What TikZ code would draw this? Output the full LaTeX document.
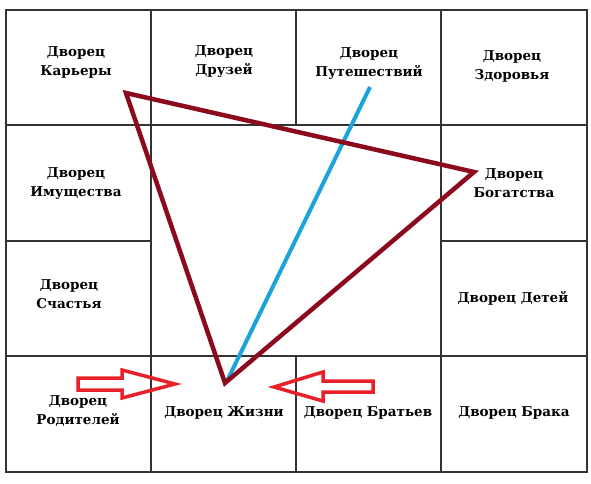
\documentclass[tikz,border=0pt]{standalone}
\usepackage{fontspec}
\setmainfont{DejaVu Serif}
\begin{document}
\begin{tikzpicture}[x=1pt,y=-1pt,
  grid/.style={draw=black!80,line width=1.4pt},
  lbl/.style={font=\bfseries\fontsize{13.5}{19}\selectfont,align=center,inner sep=0pt,text=black},
  tri/.style={draw={rgb,255:red,139;green,10;blue,30},line width=4.5pt,line join=miter},
  ray/.style={draw={rgb,255:red,28;green,163;blue,220},line width=4pt},
  redarrow/.style={draw={rgb,255:red,232;green,32;blue,42},line width=3.5pt,line join=miter}]
\useasboundingbox (0,0) rectangle (591,484);
\fill[white] (0,0) rectangle (591,484);
% grid
\draw[grid] (6,10) rectangle (587,472);
\draw[grid] (6,125) -- (587,125);
\draw[grid] (6,356) -- (587,356);
\draw[grid] (6,241) -- (151,241);
\draw[grid] (441,241) -- (587,241);
\draw[grid] (151,10) -- (151,472);
\draw[grid] (441,10) -- (441,472);
\draw[grid] (296,10) -- (296,125);
\draw[grid] (296,356) -- (296,472);
% labels
\node[lbl] (kar) at (76,62) {Дворец\\Карьеры};
\node[lbl] (dru) at (224,62) {Дворец\\Друзей};
\node[lbl] (put) at (369,64) {Дворец\\Путешествий};
\node[lbl] (zdo) at (512,66) {Дворец\\Здоровья};
\node[lbl] (imu) at (76,184) {Дворец\\Имущества};
\node[lbl] (bog) at (514,183) {Дворец\\Богатства};
\node[lbl] (sch) at (69,294) {Дворец\\Счастья};
\node[lbl] (det) at (513,298) {Дворец Детей};
\node[lbl] (rod) at (78,411) {Дворец\\Родителей};
\node[lbl] (zhi) at (224,413) {Дворец Жизни};
\node[lbl] (bra) at (368,413) {Дворец Братьев};
\node[lbl] (brk) at (514,413) {Дворец Брака};
% triangle
\coordinate (K) at (126,93);
\coordinate (B) at (474,172);
\coordinate (Z) at (225,383);
\coordinate (P) at (370,87);
\draw[ray] (P) -- (227,381);
\draw[tri] (K) -- (B) -- (Z) -- cycle;
% arrows
\draw[redarrow] (78,378) -- (122,378) -- (122,370) -- (175,384) -- (122,398) -- (122,390) -- (78,390) -- cycle;
\draw[redarrow] (373,381) -- (323,381) -- (323,372) -- (274,387) -- (323,401) -- (323,392) -- (373,392) -- cycle;
\end{tikzpicture}
\end{document}
